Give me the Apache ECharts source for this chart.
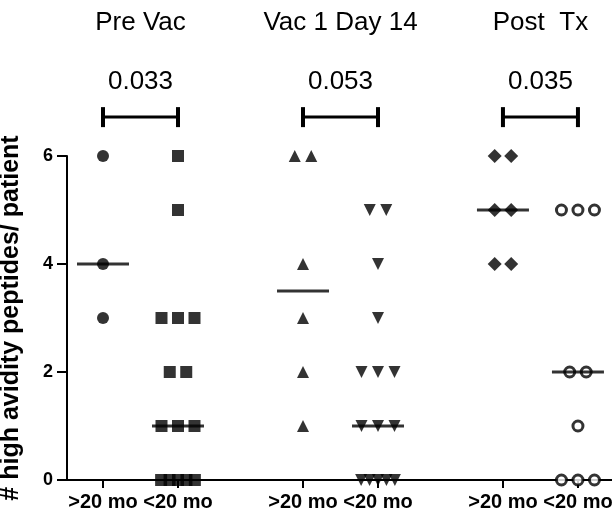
<!DOCTYPE html>
<html>
<head>
<meta charset="utf-8">
<script src="https://cdn.jsdelivr.net/npm/echarts@6/dist/echarts.min.js"></script>
<style>
html, body { margin: 0; padding: 0; background: #fff; }
#chart { width: 612px; height: 518px; }
</style>
</head>
<body>
<div id="chart"></div>
<script>
// groups / labels
var groupNames = ['Pre Vac', 'Vac 1 Day 14', 'Post  Tx'];
var pValues = ['0.033', '0.053', '0.035'];
var catLabels = ['>20 mo', '<20 mo', '>20 mo', '<20 mo', '>20 mo', '<20 mo'];
var catPos = [0, 1, 2.667, 3.667, 5.333, 6.333];
var yTicks = [0, 2, 4, 6];

// # high avidity peptides per patient
var preOld = [6, 4, 3];
var preYoung = [6, 5, 3, 3, 3, 2, 2, 1, 1, 1, 0, 0, 0, 0, 0];
var vacOld = [6, 6, 4, 3, 2, 1];
var vacYoung = [5, 5, 4, 3, 2, 2, 2, 1, 1, 1, 0, 0, 0, 0, 0];
var postOld = [6, 6, 5, 5, 4, 4];
var postYoung = [5, 5, 5, 2, 2, 1, 0, 0, 0];

var allGroups = [preOld, preYoung, vacOld, vacYoung, postOld, postYoung];
var symbols = ['circle', 'rect', 'triangle', 'triangle', 'diamond', 'circle'];
var rotates = [0, 0, 0, 180, 0, 0];
var sizes = [12, 12, 12, 12, 14, 10];

var font = '"Liberation Sans", Arial, sans-serif';

// 同值的点左右排开
function spread(vals, center) {
	var counts = {}, seen = {};
	vals.forEach(function (v) { counts[v] = (counts[v] || 0) + 1; });
	return vals.map(function (v) {
		var n = counts[v];
		seen[v] = seen[v] === undefined ? 0 : seen[v] + 1;
		var step = n > 1 ? Math.min(0.22, 0.45 / (n - 1)) : 0;
		return [center + (seen[v] - (n - 1) / 2) * step, v];
	});
}

function median(vals) {
	var s = vals.slice().sort(function (a, b) { return a - b; });
	var m = Math.floor(s.length / 2);
	return s.length % 2 ? s[m] : (s[m - 1] + s[m]) / 2;
}

var series = [];
allGroups.forEach(function (vals, i) {
	series.push({
		type: 'scatter',
		data: spread(vals, catPos[i]),
		symbol: symbols[i],
		symbolSize: sizes[i],
		symbolRotate: rotates[i],
		clip: false,
		z: 3,
		itemStyle: i === 5
			? { color: '#fff', borderColor: '#000', borderWidth: 3 }
			: { color: '#000' }
	});
});

// 中位数线
series.push({
	type: 'scatter',
	data: allGroups.map(function (vals, i) { return [catPos[i], median(vals)]; }),
	symbol: 'rect',
	symbolSize: [52, 3],
	clip: false,
	z: 5,
	itemStyle: { color: '#000' }
});

// 括号, p值, 标题
var bracketLevel = 6.72;
series.push({
	type: 'custom',
	clip: false,
	silent: true,
	z: 6,
	data: [[0, 0], [1, 0], [2, 0]],
	renderItem: function (params, api) {
		var g = params.dataIndex;
		var p1 = api.coord([catPos[g * 2], bracketLevel]);
		var p2 = api.coord([catPos[g * 2 + 1], bracketLevel]);
		var cx = (p1[0] + p2[0]) / 2;
		return {
			type: 'group',
			children: [
				{ type: 'line', shape: { x1: p1[0], y1: p1[1], x2: p2[0], y2: p2[1] }, style: { stroke: '#000', lineWidth: 3 } },
				{ type: 'line', shape: { x1: p1[0], y1: p1[1] - 10, x2: p1[0], y2: p1[1] + 10 }, style: { stroke: '#000', lineWidth: 4 } },
				{ type: 'line', shape: { x1: p2[0], y1: p2[1] - 10, x2: p2[0], y2: p2[1] + 10 }, style: { stroke: '#000', lineWidth: 4 } },
				{ type: 'text', x: cx, y: p1[1] - 35, style: { text: pValues[g], font: '26px ' + font, fill: '#000', align: 'center', verticalAlign: 'middle' } },
				{ type: 'text', x: cx, y: p1[1] - 94, style: { text: groupNames[g], font: '26px ' + font, fill: '#000', align: 'center', verticalAlign: 'middle' } }
			]
		};
	}
});

var chart = echarts.init(document.getElementById('chart'));
chart.setOption({
	animation: false,
	backgroundColor: '#fff',
	grid: { left: 67, right: 0, top: 156, bottom: 38, outerBoundsMode: 'none' },
	xAxis: {
		type: 'value',
		min: -0.48,
		max: 6.787,
		splitLine: { show: false },
		axisLine: { show: true, onZero: false, lineStyle: { color: '#000', width: 2 } },
		axisTick: { show: true, customValues: catPos, length: 8, lineStyle: { color: '#000', width: 2 } },
		axisLabel: {
			customValues: catPos,
			formatter: function (v) {
				var i = catPos.indexOf(v);
				return i >= 0 ? catLabels[i] : '';
			},
			color: '#000', fontSize: 20, fontWeight: 'bold', fontFamily: font, margin: 12
		}
	},
	yAxis: {
		type: 'value',
		min: yTicks[0],
		max: yTicks[yTicks.length - 1],
		interval: 2,
		name: '# high avidity peptides/ patient',
		nameLocation: 'middle',
		nameGap: 43,
		nameTextStyle: { color: '#000', fontSize: 25, fontWeight: 'bold', fontFamily: font },
		splitLine: { show: false },
		axisLine: { show: true, onZero: false, lineStyle: { color: '#000', width: 2 } },
		axisTick: { show: true, length: 10, lineStyle: { color: '#000', width: 2 } },
		axisLabel: { color: '#000', fontSize: 18, fontWeight: 'bold', fontFamily: font, margin: 14 }
	},
	series: series
});
</script>
</body>
</html>
